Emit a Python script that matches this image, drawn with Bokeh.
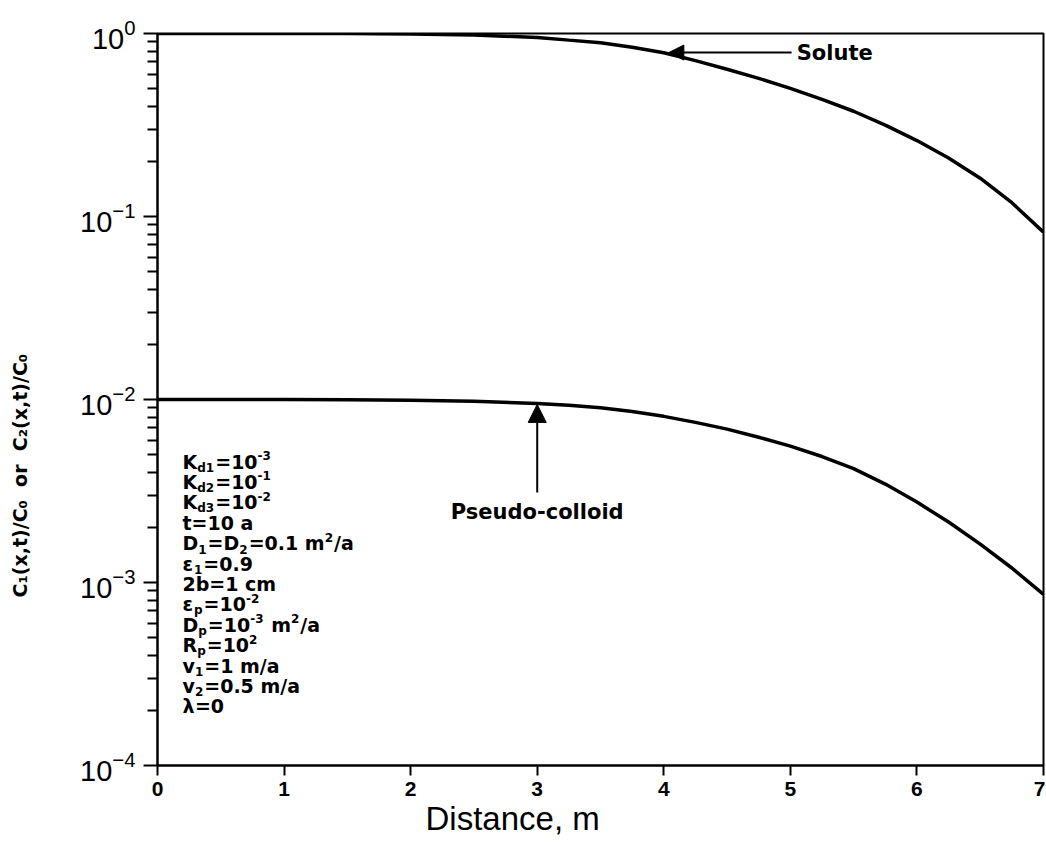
import numpy as np
from bokeh.plotting import figure
from bokeh.models import (Range1d, FixedTicker, LogTickFormatter, Arrow, NormalHead,
                          Title, ColumnDataSource, LogAxis)
from bokeh.embed import file_html
from bokeh.resources import INLINE
from bokeh.core.properties import value

# ---------------- data ----------------
distance = [0, 0.5, 1, 1.5, 2, 2.5, 3, 3.25, 3.5, 3.75, 4, 4.25, 4.5, 4.75,
            5, 5.25, 5.5, 5.75, 6, 6.25, 6.5, 6.75, 7]
solute = [1.0, 1.0, 1.0, 0.999, 0.995, 0.982, 0.951, 0.920, 0.891, 0.841,
          0.785, 0.711, 0.638, 0.569, 0.501, 0.437, 0.376, 0.316, 0.260,
          0.209, 0.162, 0.119, 0.082]
pseudo_colloid = [0.01, 0.01, 0.01, 0.00998, 0.00991, 0.00977, 0.00951, 0.00929,
                  0.00902, 0.00859, 0.00809, 0.00750, 0.00689, 0.00622, 0.00556,
                  0.00488, 0.00419, 0.00345, 0.00275, 0.00214, 0.00162, 0.00120,
                  0.00086]

x_ticks = [0, 1, 2, 3, 4, 5, 6, 7]
y_decades = [-4, -3, -2, -1, 0]

x_label = "Distance, m"
y_label = "C\u2081(x,t)/C\u2080 \u00a0or\u00a0 C\u2082(x,t)/C\u2080"

solute_label = "Solute"
solute_arrow_tip = (4.04, 0.787)
solute_arrow_tail = (5.01, 0.787)
solute_text_at = (5.05, 0.787)

colloid_label = "Pseudo-colloid"
colloid_arrow_tip = (3.0, 0.0094)
colloid_arrow_tail = (3.0, 0.0031)
colloid_text_at = (3.0, 0.00244)

# parameter block: (text, kind) segments; kind "" normal, "sub", "sup"
param_lines = [
    [("K", ""), ("d1", "sub"), ("=10", ""), ("-3", "sup")],
    [("K", ""), ("d2", "sub"), ("=10", ""), ("-1", "sup")],
    [("K", ""), ("d3", "sub"), ("=10", ""), ("-2", "sup")],
    [("t=10 a", "")],
    [("D", ""), ("1", "sub"), ("=D", ""), ("2", "sub"), ("=0.1 m", ""), ("2", "sup"), ("/a", "")],
    [("\u03b5", ""), ("1", "sub"), ("=0.9", "")],
    [("2b=1 cm", "")],
    [("\u03b5", ""), ("p", "sub"), ("=10", ""), ("-2", "sup")],
    [("D", ""), ("p", "sub"), ("=10", ""), ("-3", "sup"), (" m", ""), ("2", "sup"), ("/a", "")],
    [("R", ""), ("p", "sub"), ("=10", ""), ("2", "sup")],
    [("v", ""), ("1", "sub"), ("=1 m/a", "")],
    [("v", ""), ("2", "sub"), ("=0.5 m/a", "")],
    [("\u03bb", ""), ("=0", "")],
]

# ---------------- figure ----------------
p = figure(width=1045, height=845, output_backend="svg", toolbar_location=None,
           x_range=Range1d(0, 7), y_range=Range1d(1e-4, 1), y_axis_type="log",
           min_border_left=157, min_border_right=2, min_border_top=33,
           min_border_bottom=80)
p.background_fill_color = "white"
p.border_fill_color = "white"
p.outline_line_color = "black"
p.outline_line_width = 2
p.xgrid.visible = False
p.ygrid.visible = False

# x axis
xa = p.xaxis[0]
xa.ticker = FixedTicker(ticks=x_ticks)
xa.axis_line_width = 2
xa.major_tick_line_width = 2
xa.major_tick_out = 10
xa.major_tick_in = 0
xa.minor_tick_line_color = None
xa.major_label_text_font = "Liberation Sans"
xa.major_label_text_font_style = "bold"
xa.major_label_text_font_size = "21px"
xa.major_label_text_color = "black"
xa.major_label_standoff = 6

# y axis
majors = [10.0 ** d for d in y_decades]
minors = [m * 10.0 ** d for d in y_decades[:-1] for m in range(2, 10)]
ya = p.yaxis[0]
ya.ticker = FixedTicker(ticks=majors, minor_ticks=minors)
ya.formatter = LogTickFormatter()
ya.axis_line_width = 2
ya.major_tick_line_width = 2
ya.minor_tick_line_width = 2
ya.major_tick_out = 14
ya.major_tick_in = 0
ya.minor_tick_out = 10
ya.minor_tick_in = 0
ya.major_label_text_font = "Liberation Sans"
ya.major_label_text_font_size = "29px"
ya.major_label_text_color = "black"
ya.major_label_standoff = 8

# blank spacer between the y axis and its title (one white tick, no labels)
spacer = LogAxis(ticker=FixedTicker(ticks=[majors[2]]), major_tick_out=42,
                 major_tick_in=0, minor_tick_out=0, minor_tick_in=0,
                 axis_line_color=None, major_tick_line_color="white",
                 minor_tick_line_color=None, major_label_text_color=None,
                 major_label_standoff=0)
p.add_layout(spacer, "left")

# curves
src = ColumnDataSource(dict(x=distance, s=solute, c=pseudo_colloid))
p.line("x", "s", source=src, line_color="black", line_width=3.5)
p.line("x", "c", source=src, line_color="black", line_width=3.5)

# annotations
p.add_layout(Arrow(end=NormalHead(size=15, fill_color="black", line_color="black"),
                   x_start=solute_arrow_tail[0], y_start=solute_arrow_tail[1],
                   x_end=solute_arrow_tip[0], y_end=solute_arrow_tip[1],
                   line_width=2, line_color="black"))
p.text(x=[solute_text_at[0]], y=[solute_text_at[1]], text=[solute_label],
       text_font=value("DejaVu Sans"), text_font_style="bold", text_font_size="21px",
       text_align="left", text_baseline="middle", text_color="black")

p.add_layout(Arrow(end=NormalHead(size=18, fill_color="black", line_color="black"),
                   x_start=colloid_arrow_tail[0], y_start=colloid_arrow_tail[1],
                   x_end=colloid_arrow_tip[0], y_end=colloid_arrow_tip[1],
                   line_width=2, line_color="black"))
p.text(x=[colloid_text_at[0]], y=[colloid_text_at[1]], text=[colloid_label],
       text_font=value("DejaVu Sans"), text_font_style="bold", text_font_size="21px",
       text_align="center", text_baseline="middle", text_color="black")

# parameter block layout (approximate DejaVu Sans Bold advances, em units)
adv = {" ": 0.348, "\u00a0": 0.348, ".": 0.381, "/": 0.365, "-": 0.415, "=": 0.838,
       "a": 0.675, "b": 0.716, "c": 0.593, "d": 0.716, "m": 1.042, "t": 0.478,
       "p": 0.716, "v": 0.652, "D": 0.830, "K": 0.778, "R": 0.770,
       "\u03b5": 0.604, "\u03bb": 0.652}
for ch in "0123456789":
    adv[ch] = 0.696

main_fs, small_fs = 19, 12
line_gap = 20.4
first_off = 62
left_off = 25
main_rows = dict(x=[], y=[], text=[], xo=[], yo=[])
small_rows = dict(x=[], y=[], text=[], xo=[], yo=[])
for i, segs in enumerate(param_lines):
    cx = left_off
    base_y = first_off + i * line_gap
    for txt, kind in segs:
        txt = txt.replace(" ", "\u00a0")
        fs = main_fs if kind == "" else small_fs
        rows = main_rows if kind == "" else small_rows
        dy = 0 if kind == "" else (6 if kind == "sub" else -6)
        rows["x"].append(0.0)
        rows["y"].append(1e-2)
        rows["text"].append(txt)
        rows["xo"].append(cx)
        rows["yo"].append(base_y + dy)
        cx += sum(adv.get(ch, 0.65) for ch in txt) * fs + (1 if kind else 0)

p.text("x", "y", text="text", x_offset="xo", y_offset="yo",
       source=ColumnDataSource(main_rows), text_font=value("DejaVu Sans"),
       text_font_style="bold", text_font_size=f"{main_fs}px",
       text_align="left", text_baseline="middle", text_color="black")
p.text("x", "y", text="text", x_offset="xo", y_offset="yo",
       source=ColumnDataSource(small_rows), text_font=value("DejaVu Sans"),
       text_font_style="bold", text_font_size=f"{small_fs}px",
       text_align="left", text_baseline="middle", text_color="black")

# axis titles (side titles so they can sit off-centre like the original)
p.add_layout(Title(text=y_label, align="left", vertical_align="bottom", offset=168,
                   standoff=10, text_font="DejaVu Sans", text_font_style="bold",
                   text_font_size="19px", text_color="black"), "left")
p.add_layout(Title(text=x_label, align="left", vertical_align="top", offset=268,
                   standoff=2, text_font="Liberation Sans", text_font_style="normal",
                   text_font_size="33px", text_color="black"), "below")

open("out.html", "w").write(file_html(p, INLINE))
